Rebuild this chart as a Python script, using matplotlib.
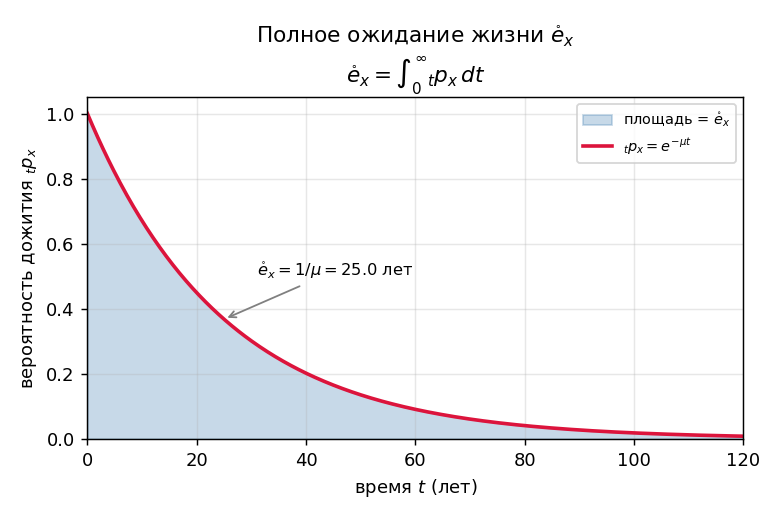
import numpy as np
import matplotlib
matplotlib.use("Agg")
import matplotlib.pyplot as plt

# Data / parameters
mu = 0.04                # force of mortality (1/25)
t_max = 120
t = np.linspace(0, t_max, 500)
tpx = np.exp(-mu * t)
e_x = 1 / mu
ann_point = (e_x, np.exp(-1))
ann_text_pos = (31, 0.5)

fig, ax = plt.subplots(figsize=(6, 4), dpi=130)

ax.fill_between(t, tpx, color="steelblue", alpha=0.3, label=r"площадь = $\mathring{e}_x$")
ax.plot(t, tpx, color="crimson", lw=2, label=r"${}_tp_x = e^{-\mu t}$")

ax.annotate(rf"$\mathring{{e}}_x = 1/\mu = {e_x:.1f}$ лет", xy=ann_point, xytext=ann_text_pos,
            fontsize=9, arrowprops=dict(arrowstyle="->", color="gray"))

ax.set_xlim(0, t_max)
ax.set_ylim(0, 1.05)
ax.set_xlabel(r"время $t$ (лет)", fontsize=10)
ax.set_ylabel(r"вероятность дожития ${}_tp_x$", fontsize=10)
ax.set_title("Полное ожидание жизни $\\mathring{e}_x$\n$\\mathring{e}_x = \\int_0^\\infty {}_tp_x\\,dt$", fontsize=12)
ax.grid(True, alpha=0.3)
ax.legend(loc="upper right", fontsize=8)

fig.subplots_adjust(left=0.112, right=0.953, top=0.813, bottom=0.156)
fig.savefig("out.png", dpi=130)
